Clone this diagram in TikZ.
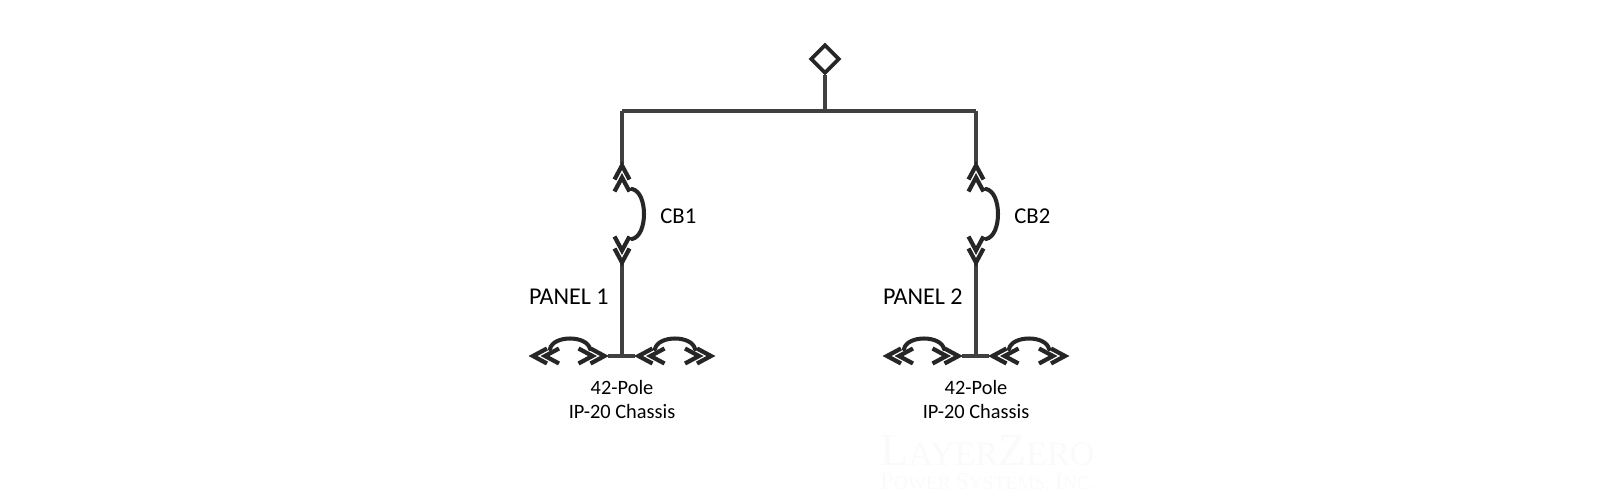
\documentclass[tikz,border=0pt]{standalone}
\usepackage{fontspec}
\setmainfont{Carlito}
\newfontfamily\wmfont{Liberation Serif}
\usetikzlibrary{shapes.geometric}
\definecolor{wirecol}{HTML}{404040}
\definecolor{inkcol}{HTML}{262626}
\definecolor{wmcol}{HTML}{FAFAFA}
\tikzset{
  wire/.style={draw=wirecol,line width=2.2pt},
  loopline/.style={draw=inkcol,line width=2.3pt,line cap=round},
  lbl/.style={font=\fontsize{12.9}{15}\selectfont,text=black,inner sep=0pt},
  panel/.style={lbl,font=\fontsize{13.7}{15}\selectfont},
  chassis/.style={lbl,align=center,font=\fontsize{11.6}{13.6}\selectfont},
  wm/.style={text=wmcol,inner sep=0pt,anchor=base west},
  srcmark/.style={diamond,draw=inkcol,line width=2.1pt,fill=white,minimum width=0.58cm,minimum height=0.58cm,inner sep=0pt,aspect=1},
  dchev/.pic={
    \draw[draw=inkcol,line width=2.4pt] (-18.5,-7.5) -- (-4.5,0) -- (-18.5,7.5);
    \draw[draw=inkcol,line width=2.4pt] (-30.5,-7.5) -- (-16.5,0) -- (-30.5,7.5);
  }
}
\begin{document}
\begin{tikzpicture}[x=0.02cm,y=-0.02cm]
\useasboundingbox (0,0) rectangle (1600,500);
% watermark
\node[wm] (wm1) at (880,465) {\wmfont\fontsize{26.2}{30}\selectfont L\fontsize{19.4}{30}\selectfont AYER\fontsize{26.2}{30}\selectfont Z\fontsize{19.4}{30}\selectfont ERO};
\node[wm] (wm2) at (880,489) {\wmfont\fontsize{13.8}{16}\selectfont P\fontsize{11}{16}\selectfont OWER \fontsize{13.8}{16}\selectfont S\fontsize{11}{16}\selectfont YSTEMS, \fontsize{13.8}{16}\selectfont I\fontsize{11}{16}\selectfont NC.};
% source and bus
\node[srcmark] (src) at (825,59) {};
\coordinate (busM) at (825,111);
\coordinate (busL) at (622,111);
\coordinate (busR) at (976,111);
\draw[wire] (src.south) -- (busM);
\foreach \n/\x/\cb/\pn in {A/622/CB1/PANEL 1,B/976/CB2/PANEL 2}{
  \coordinate (top\n) at (\x,111);
  \coordinate (cbU\n) at (\x,164);
  \coordinate (cbD\n) at (\x,262);
  \coordinate (hub\n) at (\x,356);
  \coordinate (hl\n) at (\x-14,356);
  \coordinate (hr\n) at (\x+13,356);
  \coordinate (arcUa\n) at (\x+10,189);
  \coordinate (arcUb\n) at (\x+10,239);
  \coordinate (la\n) at (\x-72,349);
  \coordinate (lb\n) at (\x-32,349);
  \coordinate (ra\n) at (\x+33,349);
  \coordinate (rb\n) at (\x+73,349);
  \draw[wire] (top\n) -- (cbU\n);
  \draw[wire] (cbD\n) -- (hub\n);
  \draw[wire] (hl\n) -- (hr\n);
  \pic at (\x,161) [rotate=90] {dchev};
  \pic at (\x,267) [rotate=-90] {dchev};
  \pic at (\x-93.5,356) [rotate=180] {dchev};
  \pic at (\x-13,356) {dchev};
  \pic at (\x+12,356) [rotate=180] {dchev};
  \pic at (\x+93.5,356) {dchev};
  \draw[loopline] (arcUa\n) .. controls +(16,3) and +(16,-3) .. (arcUb\n);
  \draw[loopline] (la\n) .. controls +(3,-14) and +(-3,-14) .. (lb\n);
  \draw[loopline] (ra\n) .. controls +(3,-14) and +(-3,-14) .. (rb\n);
  \node[lbl,anchor=west] (cb\n) at (\x+38,216) {\cb};
  \node[panel,anchor=east] (pn\n) at (\x-13,297) {\pn};
  \node[chassis] (ch\n) at (\x,399.5) {42-Pole\\IP-20 Chassis};
}
\draw[wire] (busL) -- (busR);
\end{tikzpicture}
\end{document}
